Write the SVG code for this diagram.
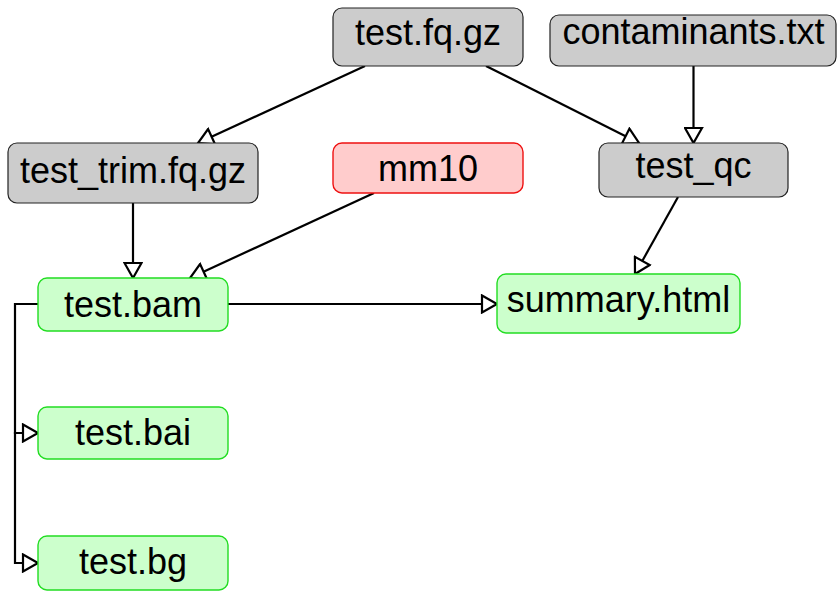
<svg xmlns="http://www.w3.org/2000/svg" width="837" height="592" viewBox="0 0 837 592">
  <defs>
    <marker id="tri" viewBox="0 0 20 20" refX="17" refY="10" markerWidth="20" markerHeight="20" markerUnits="userSpaceOnUse" orient="auto">
      <path d="M2,1.5 L17,10 L2,18.5 Z" fill="#fff" stroke="#000" stroke-width="2.2" stroke-linejoin="miter"/>
    </marker>
  </defs>
  <style>
    text { font-family: "Liberation Sans", Arial, sans-serif; font-size: 36px; fill: #000; text-anchor: middle; }
    .file rect { fill: #cccccc; stroke: #222; stroke-width: 1.2; }
    .out rect { fill: #ccffcc; stroke: #22dd22; stroke-width: 1.4; }
    .ref rect { fill: #ffcccc; stroke: #ee1111; stroke-width: 1.4; }
    .edge { fill: none; stroke: #000; stroke-width: 2.2; marker-end: url(#tri); }
  </style>
  <rect width="837" height="592" fill="#fff"/>

  <g id="connectors">
    <line class="edge" x1="365" y1="66" x2="198" y2="143"/>
    <line class="edge" x1="486" y1="66" x2="639" y2="143"/>
    <line class="edge" x1="693.5" y1="66" x2="693.5" y2="143"/>
    <line class="edge" x1="133" y1="203" x2="133" y2="278"/>
    <line class="edge" x1="374" y1="193" x2="190" y2="278"/>
    <line class="edge" x1="678" y1="197" x2="635" y2="274"/>
    <line class="edge" x1="228" y1="304" x2="497" y2="304"/>
    <path class="edge" d="M38,304 H15 V433 H38"/>
    <path class="edge" d="M15,432 V563 H38"/>
  </g>

  <g id="test_fq_gz" class="file">
    <rect x="333" y="8" width="190" height="58" rx="9"/>
    <text x="428" y="45">test.fq.gz</text>
  </g>
  <g id="contaminants_txt" class="file">
    <rect x="550" y="15" width="286" height="51" rx="9"/>
    <text x="693.5" y="44">contaminants.txt</text>
  </g>
  <g id="test_trim_fq_gz" class="file">
    <rect x="8" y="143" width="250" height="60" rx="9"/>
    <text x="133" y="183">test_trim.fq.gz</text>
  </g>
  <g id="mm10" class="ref">
    <rect x="333" y="143" width="190" height="50" rx="9"/>
    <text x="428" y="181">mm10</text>
  </g>
  <g id="test_qc" class="file">
    <rect x="599" y="143" width="189" height="54" rx="9"/>
    <text x="693.5" y="178">test_qc</text>
  </g>
  <g id="test_bam" class="out">
    <rect x="38" y="278" width="190" height="53" rx="9"/>
    <text x="133" y="317">test.bam</text>
  </g>
  <g id="summary_html" class="out">
    <rect x="497" y="274" width="243" height="59" rx="9"/>
    <text x="618.5" y="312">summary.html</text>
  </g>
  <g id="test_bai" class="out">
    <rect x="38" y="407" width="190" height="52" rx="9"/>
    <text x="133" y="445">test.bai</text>
  </g>
  <g id="test_bg" class="out">
    <rect x="38" y="536" width="190" height="54" rx="9"/>
    <text x="133" y="574">test.bg</text>
  </g>
</svg>
